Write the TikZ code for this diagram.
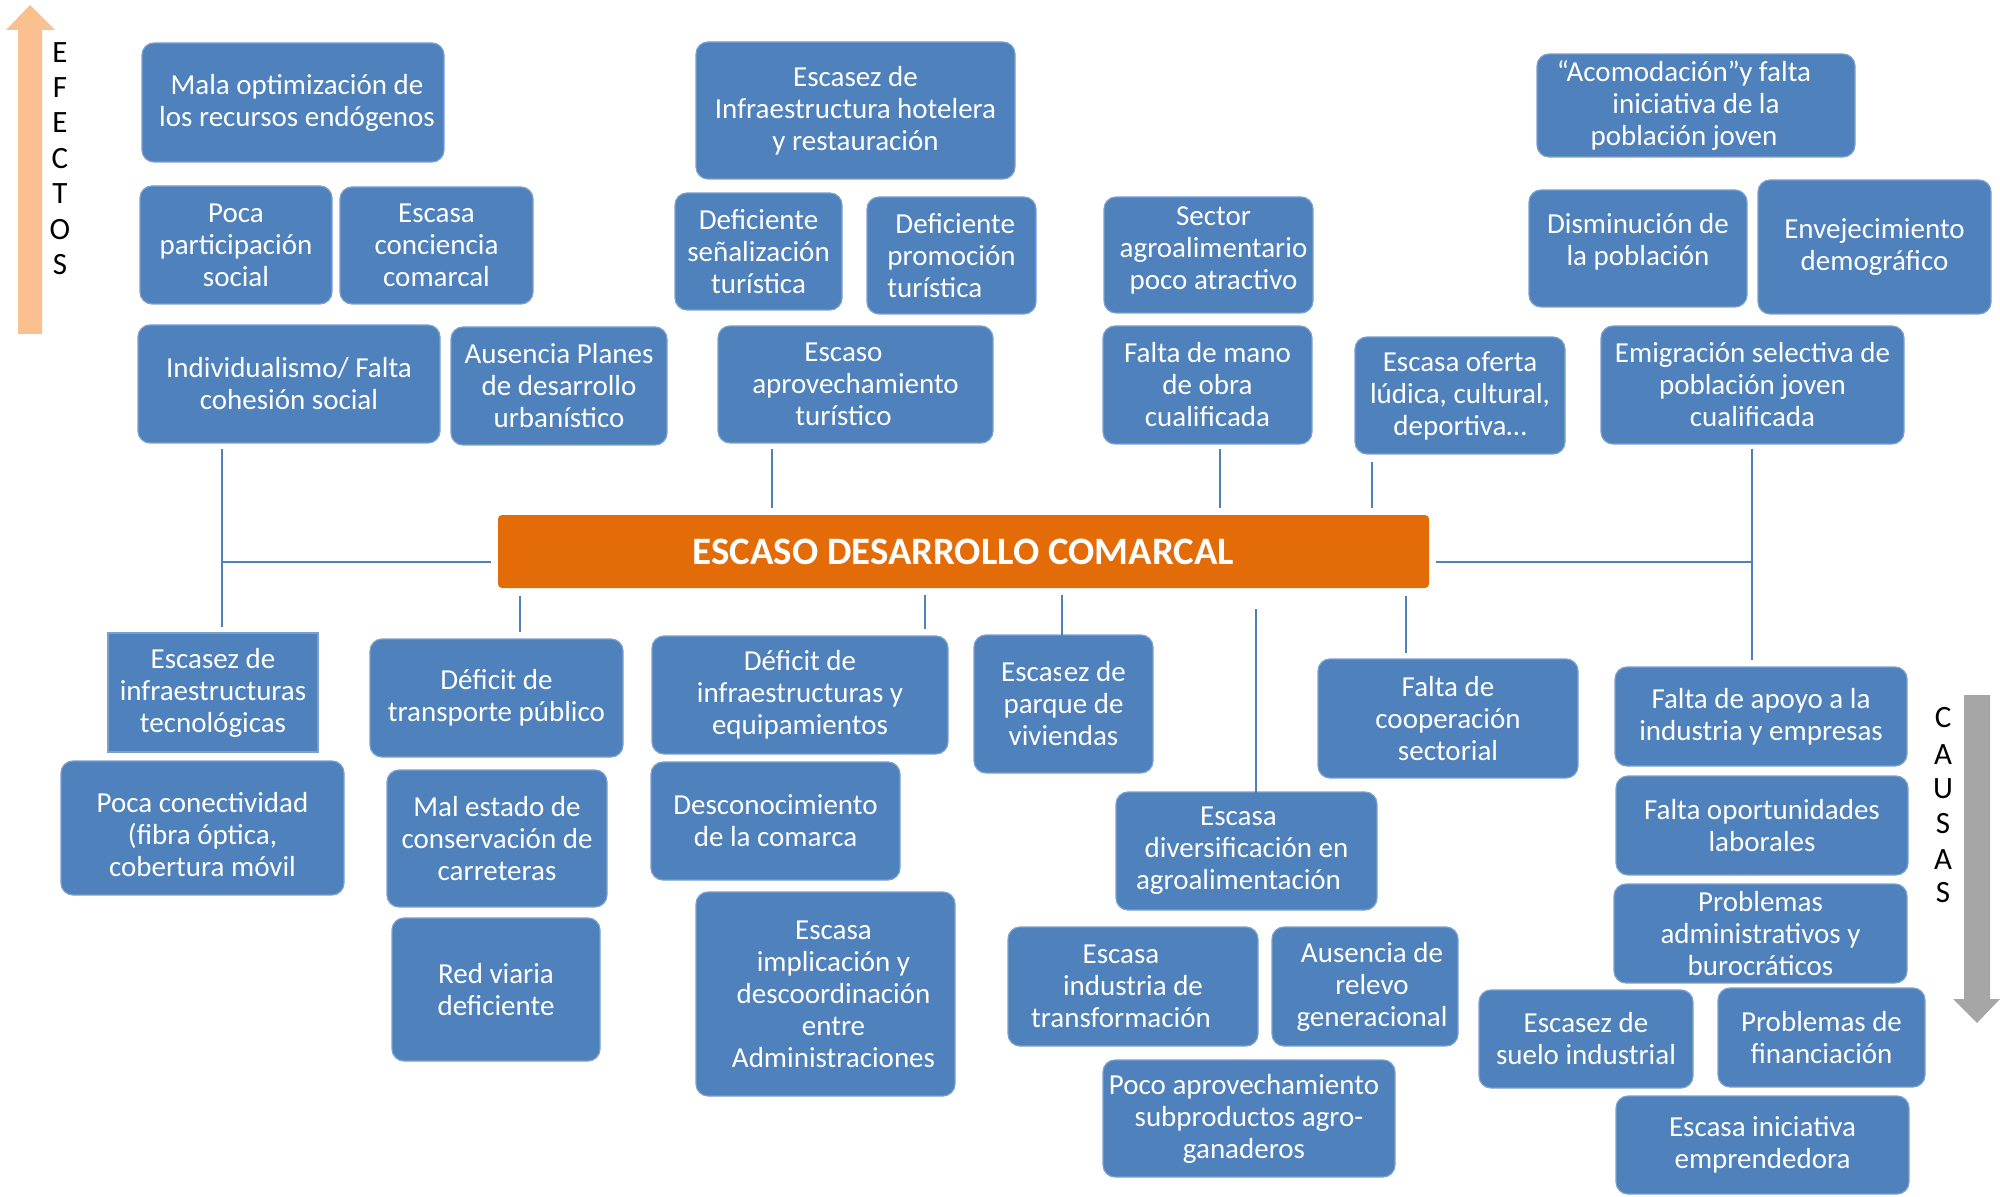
\documentclass[tikz,border=0pt]{standalone}
\usepackage{fontspec}
\setmainfont{Carlito}
\definecolor{boxblue}{HTML}{4F81BD}
\definecolor{orng}{HTML}{E36C09}
\definecolor{peach}{HTML}{FAC090}
\definecolor{arrgray}{HTML}{A6A6A6}
\newcommand\placebox[7][]{%
  \node[box,#1,minimum width={(#5-#3)*0.5pt},minimum height={(#6-#4)*0.5pt}] (#2) at ({(#3+#5)/2},{(#4+#6)/2}) {#7};}
\newcommand\hsp[1]{\hspace*{#1}}
\begin{document}
\begin{tikzpicture}[x=0.5pt,y=-0.5pt,
  box/.style={fill=boxblue, draw=boxblue!75!white, line width=0.6pt, rounded corners=6pt,
    text=white, align=center, inner sep=0pt, font=\fontsize{14.5}{16}\selectfont},
  conn/.style={draw=boxblue, line width=1pt},
  letter/.style={inner sep=0pt, font=\fontsize{15.5}{18}\selectfont, text=black}]
\useasboundingbox (0,0) rectangle (2000,1197);

% ---------- side arrows ----------
\fill[peach] (18,334) -- (18,30) -- (6,30) -- (30,5) -- (55,30) -- (42,30) -- (42,334) -- cycle;
\foreach \l/\yy [count=\i] in {E/53,F/88,E/123,C/159,T/194,O/230,S/265}
  \node[letter] (ef\i) at (60,\yy) {\l};
\fill[arrgray] (1964,695) -- (1990,695) -- (1990,999) -- (2000,999) -- (1977,1023) -- (1953,999) -- (1964,999) -- cycle;
\foreach \l/\yy [count=\i] in {C/718,A/755,U/789,S/824,A/860,S/893}
  \node[letter] (ca\i) at (1943,\yy) {\l};

% ---------- effects (top) ----------
\placebox{b1}{142}{43}{444}{162}{\hsp{4pt}Mala optimización de\\\hsp{4pt}los recursos endógenos}
\placebox{b2}{140}{186}{332}{304}{Poca\\participación\\social}
\placebox{b3}{340}{187}{533}{304}{Escasa\\conciencia\\comarcal}
\placebox{b4}{138}{325}{440}{443}{Individualismo/ Falta\\cohesión social}
\placebox{b5}{451}{327}{667}{445}{Ausencia Planes\\de desarrollo\\urbanístico}
\placebox{b6}{696}{42}{1015}{179}{Escasez de\\Infraestructura hotelera\\y restauración}
\placebox{b7}{675}{193}{842}{310}{Deficiente\\señalización\\turística}
\placebox[align=left]{b8}{867}{197}{1036}{314}{\hsp{4pt}Deficiente\\promoción\\turística}
\placebox{b9}{718}{326}{993}{443}{Escaso\hsp{12pt}\\aprovechamiento\hsp{12pt}\\turístico\hsp{12pt}}
\placebox{b10}{1104}{197}{1313}{313}{\hsp{5pt}Sector\\\hsp{5pt}agroalimentario\\\hsp{5pt}poco atractivo\rule[-6.9pt]{0pt}{0pt}}
\placebox{b11}{1103}{326}{1312}{444}{Falta de mano\\de obra\\cualificada}
\placebox{b12}{1355}{337}{1565}{454}{Escasa oferta\\lúdica, cultural,\\deportiva…}
\placebox{b13}{1537}{54}{1855}{157}{“Acomodación”y falta\hsp{12pt}\\iniciativa de la\hsp{12pt}\\población joven\hsp{12pt}}
\placebox{b14}{1529}{190}{1747}{307}{Disminución de\\la población\rule[-8.9pt]{0pt}{0pt}}
\placebox{b15}{1758}{180}{1991}{314}{Envejecimiento\\demográfico}
\placebox{b16}{1601}{326}{1904}{444}{Emigración selectiva de\\población joven\\cualificada}

% ---------- core problem ----------
\node[fill=orng, rounded corners=2pt, minimum width=465.5pt, minimum height=36.5pt,
  inner sep=0pt, text=white, font=\bfseries\fontsize{19.4}{22}\selectfont]
  (core) at (963.5,551.5) {ESCASO DESARROLLO COMARCAL};

% ---------- causes (bottom) ----------
\placebox[sharp corners]{c1}{108}{633}{318}{752}{Escasez de\\infraestructuras\\tecnológicas}
\placebox{c2}{61}{761}{344}{895}{\rule{0pt}{16.5pt}Poca conectividad\\(fibra óptica,\\cobertura móvil}
\placebox{c3}{370}{639}{623}{757}{Déficit de\\transporte público}
\placebox{c4}{387}{770}{607}{907}{Mal estado de\\conservación de\\carreteras}
\placebox{c5}{392}{918}{600}{1061}{Red viaria\\deficiente}
\placebox{c6}{652}{636}{948}{754}{Déficit de\\infraestructuras y\\equipamientos}
\placebox{c7}{651}{762}{900}{880}{Desconocimiento\\de la comarca}
\placebox{c8}{696}{892}{955}{1096}{\hsp{8pt}Escasa\\\hsp{8pt}implicación y\\\hsp{8pt}descoordinación\\\hsp{8pt}entre\\\hsp{8pt}Administraciones}
\placebox{c9}{974}{635}{1153}{773}{Escasez de\\parque de\\viviendas}
\placebox{c10}{1116}{792}{1377}{910}{Escasa\hsp{8pt}\\diversificación en\hsp{8pt}\\agroalimentación\hsp{8pt}}
\placebox{c11}{1008}{927}{1258}{1046}{Escasa\hsp{12pt}\\industria de\hsp{12pt}\\transformación\hsp{12pt}}
\placebox{c12}{1272}{927}{1458}{1046}{\hsp{7pt}Ausencia de\\\hsp{7pt}relevo\\\hsp{7pt}generacional}
\placebox{c13}{1103}{1060}{1395}{1177}{Poco aprovechamiento\hsp{5pt}\\subproductos agro-\hsp{5pt}\\ganaderos\hsp{5pt}}
\placebox{c14}{1318}{659}{1578}{778}{Falta de\\cooperación\\sectorial}
\placebox{c15}{1615}{667}{1907}{766}{Falta de apoyo a la\\industria y empresas}
\placebox{c16}{1616}{776}{1908}{875}{Falta oportunidades\\laborales}
\placebox{c17}{1614}{884}{1907}{983}{Problemas\\administrativos y\\burocráticos}
\placebox{c18}{1479}{990}{1693}{1088}{Escasez de\\suelo industrial}
\placebox{c19}{1718}{988}{1925}{1087}{Problemas de\\financiación}
\placebox{c20}{1616}{1096}{1909}{1194}{Escasa iniciativa\\emprendedora}

% ---------- connectors ----------
\coordinate (l1a) at (222,449); \coordinate (l1b) at (222,627);
\coordinate (l1c) at (222,562); \coordinate (l1d) at (491,562);
\draw[conn] (l1a) -- (l1b);
\draw[conn] (l1c) -- (l1d);
\coordinate (t2a) at (772,449);  \coordinate (t2b) at (772,508);
\coordinate (t3a) at (1220,449); \coordinate (t3b) at (1220,508);
\coordinate (t4a) at (1372,462); \coordinate (t4b) at (1372,508);
\draw[conn] (t2a) -- (t2b);
\draw[conn] (t3a) -- (t3b);
\draw[conn] (t4a) -- (t4b);
\coordinate (r1) at (1436,562); \coordinate (r2) at (1752,562);
\coordinate (r3) at (1752,449); \coordinate (r4) at (1752,660);
\draw[conn] (r1) -- (r2);
\draw[conn] (r3) -- (r4);
\coordinate (d1a) at (520,596);  \coordinate (d1b) at (520,632);
\coordinate (d2a) at (925,595);  \coordinate (d2b) at (925,629);
\coordinate (d3a) at (1062,595); \coordinate (d3b) at (1062,690);
\coordinate (d4a) at (1256,609); \coordinate (d4b) at (1256,805);
\coordinate (d5a) at (1406,596); \coordinate (d5b) at (1406,653);
\draw[conn] (d1a) -- (d1b);
\draw[conn] (d2a) -- (d2b);
\draw[conn] (d3a) -- (d3b);
\draw[conn] (d4a) -- (d4b);
\draw[conn] (d5a) -- (d5b);
\end{tikzpicture}
\end{document}
